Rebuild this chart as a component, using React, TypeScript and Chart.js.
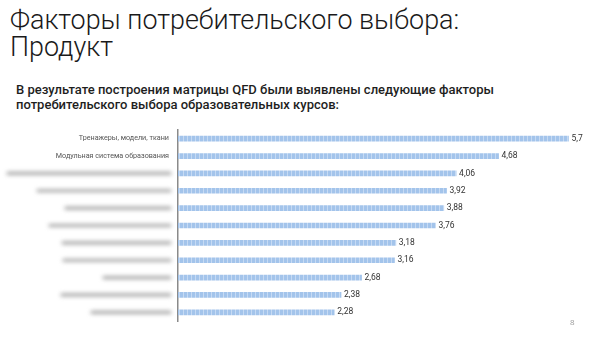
import React, { useEffect, useRef } from "react";
import { Chart, registerables } from "chart.js";

Chart.register(...registerables);

const titleLines = ["Факторы потребительского выбора:", "Продукт"];
const subtitleLines = [
  "В результате построения матрицы QFD были выявлены следующие факторы",
  "потребительского выбора образовательных курсов:",
];
// Only the first two category names are legible in the reference; the rest are blurred out.
const categories = [
  "Тренажеры, модели, ткани",
  "Модульная система образования",
  "",
  "",
  "",
  "",
  "",
  "",
  "",
  "",
  "",
];
const values = [5.7, 4.68, 4.06, 3.92, 3.88, 3.76, 3.18, 3.16, 2.68, 2.38, 2.28];
const xMax = 6;
const pageNumber = "8";

const formatValue = (v: number) => String(v).replace(".", ",");

function makeBarPattern(): CanvasPattern | string {
  const c = document.createElement("canvas");
  c.width = 4;
  c.height = 6;
  const ctx = c.getContext("2d");
  if (!ctx) return "#a4c4ea";
  ctx.fillStyle = "#a3c4eb";
  ctx.fillRect(0, 0, 4, 6);
  ctx.fillStyle = "#c6daf3";
  ctx.fillRect(3, 0, 1, 6);
  const p = ctx.createPattern(c, "repeat");
  return p || "#a4c4ea";
}

const valueLabelPlugin = {
  id: "valueLabels",
  afterDatasetsDraw(chart: any) {
    const ctx = chart.ctx;
    const meta = chart.getDatasetMeta(0);
    ctx.save();
    ctx.font = "8.5px Roboto, sans-serif";
    ctx.fillStyle = "#333";
    ctx.textAlign = "left";
    ctx.textBaseline = "middle";
    meta.data.forEach((el: any, i: number) => {
      ctx.fillText(formatValue(values[i]), el.x + 3, el.y);
    });
    ctx.restore();
  },
};

const redactedPlugin = {
  id: "redacted",
  afterDraw(chart: any, _args: any, opts: any) {
    const ctx = chart.ctx;
    const yScale = chart.scales.y;
    const starts: number[] = opts.starts || [];
    const end = chart.chartArea.left - 8;
    ctx.save();
    ctx.filter = "blur(2px)";
    ctx.strokeStyle = "rgba(125,125,125,0.7)";
    ctx.lineWidth = 3.2;
    ctx.lineCap = "round";
    categories.forEach((label, i) => {
      if (label) return;
      const s = starts[i];
      if (s == null) return;
      const y = yScale.getPixelForValue(i);
      ctx.beginPath();
      ctx.moveTo(s, y);
      ctx.lineTo(end, y);
      ctx.stroke();
    });
    ctx.restore();
  },
};

export default function App() {
  const ref = useRef<HTMLCanvasElement | null>(null);

  useEffect(() => {
    if (!ref.current) return;
    const chart = new Chart(ref.current, {
      type: "bar",
      data: {
        labels: categories,
        datasets: [
          {
            data: values,
            backgroundColor: makeBarPattern() as any,
            borderWidth: 0,
            barThickness: 5,
          },
        ],
      },
      options: {
        indexAxis: "y",
        responsive: false,
        animation: false,
        layout: { padding: { top: 130, bottom: 20, left: 0, right: 2 } },
        plugins: {
          legend: { display: false },
          tooltip: { enabled: false },
          redacted: {
            starts: [null, null, 8, 38, 66, 50, 63, 64, 104, 62, 92],
          },
        } as any,
        scales: {
          x: {
            display: false,
            min: 0,
            max: xMax,
          },
          y: {
            grid: { display: false, drawTicks: false },
            border: { display: true, color: "#8a8a8a", width: 1.5 },
            ticks: {
              color: "#555",
              padding: 9,
              font: { size: 7.2, family: "Roboto, sans-serif" },
            },
            afterFit(scale: any) {
              scale.width = 178;
            },
          },
        },
      },
      plugins: [valueLabelPlugin, redactedPlugin],
    });
    return () => chart.destroy();
  }, []);

  return (
    <div style={{ position: "fixed", left: 0, top: 0, width: 591, height: 341, background: "#fff", overflow: "hidden" }}>
      <div
        style={{
          position: "absolute",
          left: 10,
          top: 7,
          fontFamily: "Roboto, sans-serif",
          fontWeight: 300,
          fontSize: 26.9,
          lineHeight: "27px",
          color: "#1a1a1a",
          whiteSpace: "nowrap",
        }}
      >
        {titleLines.map((l, i) => (
          <div key={i}>{l}</div>
        ))}
      </div>
      <div
        style={{
          position: "absolute",
          left: 16,
          top: 82,
          fontFamily: "Roboto, sans-serif",
          fontWeight: 500,
          fontSize: 13,
          lineHeight: "15px",
          color: "#1e1e1e",
          whiteSpace: "nowrap",
        }}
      >
        {subtitleLines.map((l, i) => (
          <div key={i}>{l}</div>
        ))}
      </div>
      <canvas ref={ref} width={591} height={341} style={{ position: "absolute", left: 0, top: 0, width: 591, height: 341 }} />
      <div
        style={{
          position: "absolute",
          left: 570,
          top: 316,
          fontFamily: "'Open Sans', sans-serif",
          fontSize: 8,
          color: "#999",
        }}
      >
        {pageNumber}
      </div>
    </div>
  );
}
